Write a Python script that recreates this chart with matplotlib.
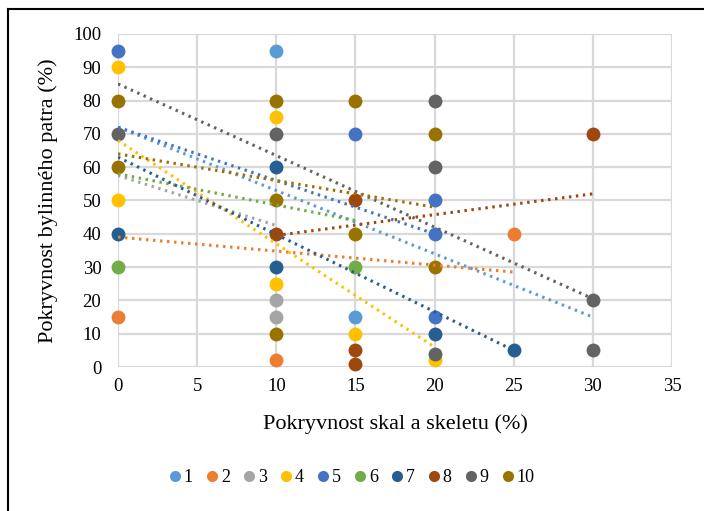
import matplotlib
matplotlib.use("Agg")
import matplotlib.pyplot as plt
from matplotlib.lines import Line2D

plt.rcParams['font.family'] = ['Liberation Serif', 'DejaVu Serif']

# series data: x = Pokryvnost skal a skeletu (%), y = Pokryvnost bylinneho patra (%)
labels = ['1', '2', '3', '4', '5', '6', '7', '8', '9', '10']
colors = ['#5B9BD5', '#ED7D31', '#A5A5A5', '#FFC000', '#4472C4',
          '#70AD47', '#255E91', '#9E480E', '#636363', '#997300']

xs = [
    [10, 15],
    [0, 10, 25],
    [10, 10],
    [0, 0, 10, 10, 15, 20],
    [0, 15, 20, 20, 20],
    [0, 15],
    [0, 10, 10, 20, 25],
    [10, 15, 15, 15, 30],
    [0, 10, 20, 20, 20, 30, 30],
    [0, 0, 10, 10, 10, 15, 15, 20, 20],
]
ys = [
    [95, 15],
    [15, 2, 40],
    [20, 15],
    [90, 50, 75, 25, 10, 2],
    [95, 70, 50, 40, 15],
    [30, 30],
    [40, 60, 30, 10, 5],
    [40, 50, 5, 1, 70],
    [70, 70, 80, 60, 4, 20, 5],
    [80, 60, 80, 50, 10, 80, 40, 70, 30],
]

# linear trendlines (start x, end x, start y, end y)
trend_x = [(0, 30), (0, 25), (0, 10), (0, 20), (0, 20),
           (0, 15), (0, 25), (10, 30), (0, 30), (0, 20)]
trend_y = [(72, 15), (39, 28.5), (57.5, 42.5), (68, 6), (72, 40),
           (58, 44), (63, 5), (39.5, 52), (85, 20.5), (64, 48)]

fig = plt.figure(figsize=(7.04, 5.11), dpi=100)
ax = fig.add_axes([118/704, 1-367/511, (672-118)/704, (367-34)/511])

for i in range(len(labels)):
    ax.plot(xs[i], ys[i], 'o', color=colors[i], ms=10, mec='none',
            label=labels[i], zorder=3 + i*0.01, clip_on=False)
for i in range(len(labels)):
    ax.plot(trend_x[i], trend_y[i], color=colors[i], lw=2.2,
            linestyle=(0, (0.8, 1.5)), zorder=4)

ax.set_xlim(0, 35)
ax.set_ylim(0, 100)
ax.set_xticks(range(0, 36, 5))
ax.set_yticks(range(0, 101, 10))
ax.grid(True, color='#D9D9D9', lw=1.6)
ax.set_axisbelow(True)
for s in ax.spines.values():
    s.set_visible(False)
ax.tick_params(length=0, labelsize=13.5, colors='black')
ax.tick_params(axis='y', pad=12)
ax.tick_params(axis='x', pad=8)

ax.set_xlabel('Pokryvnost skal a skeletu (%)', fontsize=16, labelpad=14)
ax.set_ylabel('Pokryvnost bylinného patra (%)', fontsize=16, labelpad=11)

fig.legend(*ax.get_legend_handles_labels(), loc='center',
           bbox_to_anchor=(0.5, 1-478/511), ncol=10, frameon=False,
           fontsize=13, markerscale=0.8, handlelength=0.6,
           handletextpad=0.2, columnspacing=0.75)

# chart border (left and top)
fig.add_artist(Line2D([8/704, 8/704], [0, 1-9/511], color='black', lw=1.5))
fig.add_artist(Line2D([8/704, 1], [1-9/511, 1-9/511], color='black', lw=1.5))

fig.savefig('out.png', dpi=100)
